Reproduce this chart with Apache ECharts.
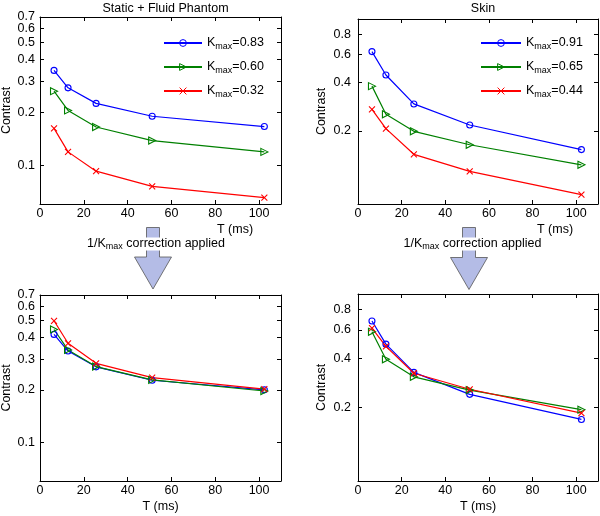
<!DOCTYPE html>
<html><head><meta charset="utf-8">
<script src="https://cdn.jsdelivr.net/npm/echarts@6/dist/echarts.min.js"></script>
<style>html,body{margin:0;padding:0;background:#fff}#c{width:600px;height:516px}</style>
</head><body><div id="c"></div>
<script>
const T = [6.4, 12.8, 25.6, 51.2, 102.4];
const xTicks = [0, 20, 40, 60, 80, 100];
const phantomYTicks = [0.1, 0.2, 0.3, 0.4, 0.5, 0.6, 0.7];
const skinYTicks = [0.2, 0.4, 0.6, 0.8];
const phantomK = ['0.83', '0.60', '0.32'];
const skinK = ['0.91', '0.65', '0.44'];
const phantomBlue = [0.347, 0.276, 0.225, 0.190, 0.166];
const phantomGreen = [0.264, 0.205, 0.165, 0.138, 0.119];
const phantomRed = [0.162, 0.119, 0.0924, 0.0757, 0.0652];
const skinBlue = [0.626, 0.447, 0.295, 0.218, 0.153];
const skinGreen = [0.381, 0.254, 0.199, 0.164, 0.123];
const skinRed = [0.273, 0.207, 0.143, 0.112, 0.080];
const phantomCorrBlue = [0.416, 0.334, 0.271, 0.227, 0.200];
const phantomCorrGreen = [0.444, 0.339, 0.272, 0.228, 0.197];
const phantomCorrRed = [0.498, 0.370, 0.284, 0.235, 0.202];
const skinCorrBlue = [0.681, 0.490, 0.328, 0.240, 0.168];
const skinCorrGreen = [0.584, 0.395, 0.308, 0.255, 0.193];
const skinCorrRed = [0.615, 0.475, 0.324, 0.258, 0.184];

const FONT = 'Liberation Sans';
const FS = 12.5;
const BLUE = '#0000ff', GREEN = '#008000', RED = '#ff0000';
const SYM = {
  o: 'circle',
  tri: 'path://M0,0L8,4L0,8Z',
  x: 'path://M0,0L8,8M8,0L0,8'
};
const SYMSIZE = {o: 6, tri: 7, x: 6};

const grids = [
  {left: 40, top: 17, width: 241, height: 187, ymin: 0.06, ymax: 0.7, yt: phantomYTicks, lm: 5, xpad: 149},
  {left: 358, top: 19, width: 240, height: 185, ymin: 0.07, ymax: 1, yt: skinYTicks, lm: 7, xpad: 154},
  {left: 40, top: 295, width: 241, height: 186, ymin: 0.06, ymax: 0.7, yt: phantomYTicks, lm: 5, xpad: 0},
  {left: 358, top: 294, width: 240, height: 187, ymin: 0.07, ymax: 1, yt: skinYTicks, lm: 7, xpad: 0}
];

const axisLine = {show: true, onZero: false, lineStyle: {color: '#000', width: 1}};
const tick = {show: true, inside: true, length: 4, lineStyle: {color: '#000'}};
const lbl = {color: '#000', fontFamily: FONT, fontSize: FS};
const fmt = v => String(+(+v).toFixed(2));

const xAxes = [], yAxes = [];
grids.forEach((g, i) => {
  xAxes.push({type: 'value', gridIndex: i, min: 0, max: 110, interval: 20, position: 'bottom',
    axisLine, axisTick: {...tick, customValues: xTicks}, splitLine: {show: false},
    axisLabel: {...lbl, margin: 3, customValues: xTicks},
    name: 'T (ms)', nameLocation: 'middle', nameGap: 19,
    nameTextStyle: {...lbl, padding: [0, 0, 0, g.xpad]}});
  xAxes.push({type: 'value', gridIndex: i, min: 0, max: 110, interval: 20, position: 'top',
    axisLine, axisTick: {...tick, customValues: xTicks}, splitLine: {show: false},
    axisLabel: {show: false}});
  const inner = g.yt.filter(v => v < g.ymax);
  const edge = g.yt.filter(v => v >= g.ymax);
  yAxes.push({type: 'log', logBase: 10, gridIndex: i, min: g.ymin, max: g.ymax, position: 'left',
    axisLine, axisTick: {...tick, customValues: g.yt}, splitLine: {show: false}, minorTick: {show: false},
    axisLabel: {...lbl, margin: g.lm, customValues: inner, hideOverlap: false, formatter: fmt},
    name: 'Contrast', nameLocation: 'middle', nameGap: i % 2 ? 30 : 27, nameTextStyle: lbl});
  yAxes.push({type: 'log', logBase: 10, gridIndex: i, min: g.ymin, max: g.ymax, position: 'right',
    axisLine, axisTick: {...tick, customValues: g.yt}, splitLine: {show: false},
    axisLabel: {show: false}});
  // separate label-only axis for the tick label that sits on the top edge of the box
  yAxes.push({type: 'log', logBase: 10, gridIndex: i, min: g.ymin, max: g.ymax, position: 'left',
    axisLine: {show: false}, axisTick: {show: false}, splitLine: {show: false},
    axisLabel: {...lbl, show: edge.length > 0, margin: g.lm, customValues: edge.length ? edge : [g.ymax],
      showMaxLabel: true, formatter: fmt}});
});

function mk(name, vals, color, sym, gi) {
  return {
    type: 'line', name, xAxisIndex: gi * 2, yAxisIndex: gi * 3,
    data: T.map((t, k) => [t, vals[k]]),
    symbol: SYM[sym], symbolSize: SYMSIZE[sym], showSymbol: true,
    lineStyle: {color, width: 1.2},
    itemStyle: {color: 'rgba(0,0,0,0)', borderColor: color, borderWidth: 1.1},
    emphasis: {disabled: true}, animation: false, z: 3
  };
}

const series = [
  mk('P' + phantomK[0], phantomBlue, BLUE, 'o', 0),
  mk('P' + phantomK[1], phantomGreen, GREEN, 'tri', 0),
  mk('P' + phantomK[2], phantomRed, RED, 'x', 0),
  mk('S' + skinK[0], skinBlue, BLUE, 'o', 1),
  mk('S' + skinK[1], skinGreen, GREEN, 'tri', 1),
  mk('S' + skinK[2], skinRed, RED, 'x', 1),
  mk('cp0', phantomCorrBlue, BLUE, 'o', 2),
  mk('cp1', phantomCorrGreen, GREEN, 'tri', 2),
  mk('cp2', phantomCorrRed, RED, 'x', 2),
  mk('cs0', skinCorrBlue, BLUE, 'o', 3),
  mk('cs1', skinCorrGreen, GREEN, 'tri', 3),
  mk('cs2', skinCorrRed, RED, 'x', 3)
];

const rich = {
  k: {fontFamily: FONT, fontSize: FS, color: '#000', lineHeight: 16},
  s: {fontFamily: FONT, fontSize: 9, color: '#000', lineHeight: 16, padding: [7, 0, 0, 0]}
};
function legend(names, left, w) {
  return {
    data: names, orient: 'vertical', left, top: 35, itemWidth: w, itemHeight: 8.5, itemGap: 8,
    selectedMode: false, padding: 0,
    itemStyle: {color: 'rgba(0,0,0,0)', borderWidth: 1},
    formatter: n => '{k|K}{s|max}{k|=' + n.slice(1) + '}',
    textStyle: {rich}
  };
}

const arrowColor = '#b4bce6';
function arrow(cx, shaftHalf, headHalf, top, headTop, tip) {
  return {
    type: 'polygon', silent: true, z: 1,
    shape: {points: [
      [cx - shaftHalf, top], [cx + shaftHalf, top], [cx + shaftHalf, headTop], [cx + headHalf, headTop],
      [cx, tip], [cx - headHalf, headTop], [cx - shaftHalf, headTop]
    ]},
    style: {fill: arrowColor, stroke: '#555', lineWidth: 0.8}
  };
}
function corrText(cx, cy) {
  return {
    type: 'text', silent: true, z: 5, x: cx, y: cy,
    style: {
      text: '{a|1/K}{b|max}{a| correction applied}',
      align: 'center', verticalAlign: 'middle', backgroundColor: '#fff',
      rich: {
        a: {fontFamily: FONT, fontSize: FS, fill: '#000', lineHeight: 13},
        b: {fontFamily: FONT, fontSize: 9, fill: '#000', lineHeight: 13, padding: [6, 0, 0, 0]}
      }
    }
  };
}

const option = {
  backgroundColor: '#fff',
  animation: false,
  title: [
    {text: 'Static + Fluid Phantom', left: 160.5, top: -3, textAlign: 'center',
      textStyle: {fontFamily: FONT, fontSize: FS, fontWeight: 'normal', color: '#000'}},
    {text: 'Skin', left: 478, top: -3, textAlign: 'center',
      textStyle: {fontFamily: FONT, fontSize: FS, fontWeight: 'normal', color: '#000'}}
  ],
  grid: grids.map(g => ({left: g.left, top: g.top, width: g.width, height: g.height, containLabel: false, outerBoundsMode: 'none'})),
  xAxis: xAxes,
  yAxis: yAxes,
  legend: [
    legend(phantomK.map(k => 'P' + k), 163, 38),
    legend(skinK.map(k => 'S' + k), 480, 40)
  ],
  series,
  graphic: [
    arrow(153, 6.5, 18.5, 227.5, 257, 289),
    arrow(469, 6.5, 18.5, 227.5, 257.5, 289.5),
    corrText(156, 244),
    corrText(472.5, 244)
  ]
};
const chart = echarts.init(document.getElementById('c'), null, {renderer: 'canvas'});
chart.setOption(option);
</script></body></html>
